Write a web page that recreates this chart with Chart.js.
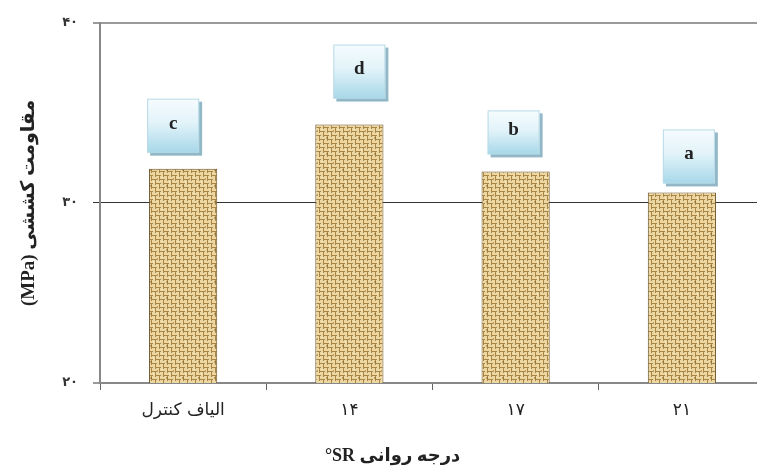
<!DOCTYPE html>
<html>
<head>
<meta charset="utf-8">
<script src="https://cdn.jsdelivr.net/npm/chart.js@4.4.0/dist/chart.umd.min.js"></script>
<style>
  html, body { margin: 0; padding: 0; background: #fff; overflow: hidden; }
  #wrap { width: 775px; height: 473px; }
</style>
</head>
<body>
<div id="wrap"><canvas id="c" width="775" height="473"></canvas></div>
<script>
// ---- data ----
const categories = ['الیاف کنترل', '۱۴', '۱۷', '۲۱'];
const tensileStrength = [31.9, 34.35, 31.75, 30.58];
const groupLetters = ['c', 'd', 'b', 'a'];
const yTickLabels = { 20: '۲۰', 30: '۳۰', 40: '۴۰' };
const yAxisTitle = '(MPa) مقاومت کششی';
const xAxisTitle = '°SR درجه روانی';

// ---- label-box styling (positions relative to bars) ----
const boxDx = [-10, 10, -2, 7];
const boxGap = [16, 26, 17, 9];
const boxH = [54, 54, 44, 54];
const boxW = 52;

// burlap pattern
function makePattern() {
  const p = document.createElement('canvas');
  p.width = 16; p.height = 16;
  const g = p.getContext('2d');
  g.fillStyle = '#ecd6a2';
  g.fillRect(0, 0, 16, 16);
  g.fillStyle = '#a98644';
  for (let cy = 0; cy < 4; cy++) {
    for (let cx = 0; cx < 4; cx++) {
      const x = cx * 4, y = cy * 4;
      if ((cx + cy) % 2 === 0) {
        g.fillRect(x, y + 3, 4, 1);
        g.fillRect(x + 3, y, 1, 1);
      } else {
        g.fillRect(x + 3, y, 1, 4);
        g.fillRect(x, y + 3, 1, 1);
      }
    }
  }
  g.fillStyle = 'rgba(130,95,40,0.45)';
  g.fillRect(6, 9, 2, 2);
  g.fillRect(13, 2, 1, 2);
  g.fillStyle = 'rgba(255,245,215,0.6)';
  g.fillRect(1, 1, 2, 1);
  g.fillRect(9, 5, 1, 2);
  return g.createPattern(p, 'repeat');
}

const boxPlugin = {
  id: 'letterBoxes',
  afterDatasetsDraw(chart) {
    const ctx = chart.ctx;
    const meta = chart.getDatasetMeta(0);
    meta.data.forEach((bar, i) => {
      const h = boxH[i];
      const x = bar.x + boxDx[i] - boxW / 2;
      const y = bar.y - boxGap[i] - h;
      ctx.save();
      ctx.fillStyle = 'rgba(110,160,180,0.75)';
      ctx.fillRect(x + 3, y + 3, boxW, h);
      const grad = ctx.createLinearGradient(0, y, 0, y + h);
      grad.addColorStop(0, '#f6fcfe');
      grad.addColorStop(0.45, '#e2f3f9');
      grad.addColorStop(1, '#a6d7e8');
      ctx.fillStyle = grad;
      ctx.fillRect(x, y, boxW, h);
      ctx.strokeStyle = '#b9dbe7';
      ctx.lineWidth = 1;
      ctx.strokeRect(x + 0.5, y + 0.5, boxW - 1, h - 1);
      ctx.fillStyle = '#222';
      ctx.font = 'bold 19px "Liberation Serif", serif';
      ctx.textAlign = 'center';
      ctx.textBaseline = 'middle';
      ctx.fillText(groupLetters[i], x + boxW / 2, y + h / 2 - 2);
      ctx.restore();
    });
  },
  afterDraw(chart) {
    // x-axis title, placed as in the reference (left of the plot centre)
    const ctx = chart.ctx;
    const xs = chart.scales.x;
    ctx.save();
    ctx.fillStyle = '#222';
    ctx.font = 'bold 18px "Liberation Serif", "DejaVu Sans", serif';
    ctx.textAlign = 'center';
    ctx.textBaseline = 'middle';
    ctx.fillText(xAxisTitle, xs.left + (xs.right - xs.left) * 0.44, xs.bottom - 17);
    ctx.restore();
  }
};

const ctx = document.getElementById('c').getContext('2d');
new Chart(ctx, {
  type: 'bar',
  data: {
    labels: categories,
    datasets: [{
      data: tensileStrength,
      backgroundColor: makePattern(),
      borderColor: '#6b5226',
      borderWidth: 1,
      barPercentage: 0.41,
      categoryPercentage: 1.0
    }]
  },
  options: {
    responsive: false,
    animation: false,
    devicePixelRatio: 1,
    layout: { padding: { top: 22, right: 10, left: 0, bottom: 0 } },
    plugins: { legend: { display: false }, tooltip: { enabled: false } },
    scales: {
      y: {
        min: 20, max: 40,
        ticks: {
          stepSize: 10,
          padding: 15,
          color: '#333',
          font: { family: '"DejaVu Sans", sans-serif', size: 13, weight: 'bold' },
          callback: v => yTickLabels[v] || ''
        },
        grid: {
          color: c2 => (c2.tick && c2.tick.value === 30) ? '#333' : '#9a9a9a',
          lineWidth: c2 => (c2.tick && c2.tick.value === 30) ? 1 : 2,
          tickLength: 7,
          drawTicks: true
        },
        border: { color: '#888', width: 2 },
        title: {
          display: true,
          text: yAxisTitle,
          color: '#222',
          font: { family: '"Liberation Serif", "DejaVu Sans", serif', size: 19, weight: 'bold' },
          padding: { top: 18, bottom: 0 }
        },
        afterFit: s => { s.width = 100; }
      },
      x: {
        ticks: {
          padding: 10,
          color: '#222',
          font: { family: '"DejaVu Sans", sans-serif', size: 17 }
        },
        grid: {
          drawOnChartArea: false,
          drawTicks: true,
          tickLength: 7,
          color: '#666',
          offset: true
        },
        border: { color: '#888', width: 2 },
        title: { display: false },
        afterFit: s => { s.height = 90; }
      }
    }
  },
  plugins: [boxPlugin]
});
</script>
</body>
</html>
